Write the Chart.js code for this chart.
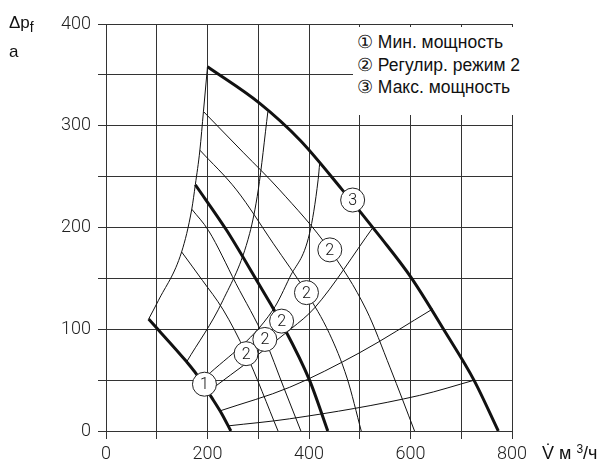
<!DOCTYPE html>
<html>
<head>
<meta charset="utf-8">
<script src="https://cdn.jsdelivr.net/npm/chart.js@4.4.1/dist/chart.umd.min.js"></script>
<style>
  html, body { margin: 0; padding: 0; background: #fff; }
  #wrap { position: relative; width: 608px; height: 466px; overflow: hidden; }
  #chart { position: absolute; left: 0; top: 0; }
  .txt { position: absolute; font-family: "Liberation Sans", Arial, sans-serif; color: #111; white-space: nowrap; line-height: 17px; font-size: 17px; }
  #legend { position: absolute; left: 353px; top: 27px; width: 190px; height: 88px; background: #fff;
            font-family: "Liberation Sans", Arial, sans-serif; font-size: 17.5px; line-height: 22.5px; color: #111;
            padding: 4px 0 0 4px; box-sizing: border-box; white-space: nowrap; }
</style>
</head>
<body>
<div id="wrap">
  <canvas id="chart" width="608" height="466"></canvas>
  <div id="legend">
    <div>① Мин. мощность</div>
    <div>② Регулир. режим 2</div>
    <div>③ Макс. мощность</div>
  </div>
  <div class="txt" style="left:9px; top:14px;">Δp<span style="font-size:14px; position:relative; top:4px;">f</span></div>
  <div class="txt" style="left:9px; top:43px;">a</div>
  <div class="txt" style="left:542px; top:445px; font-size:18px;">V̇ м <span style="font-size:12px; position:relative; top:-6px;">3</span>/ч</div>
</div>
<script>
// fan curves (x = V m3/h, y = dp Pa)
const fanMax   = [[200,358],[303,322],[382,286],[464,238],[540,191],[601,151],[670,96],[725,50],[773,0]];
const fanStep5 = [[192,314],[270,274],[342,237],[441,178],[513,119],[560,62],[608,0]];
const fanStep4 = [[185,276],[257,237],[330,184],[395,136],[440,96],[475,52],[503,0]];
const fanMid   = [[176,242],[238,197],[297,148],[323,126],[346,106],[401,50],[437,0]];
const fanStep2 = [[169,218],[202,197],[256,145],[313,90],[350,43],[384,0]];
const fanStep1 = [[149,176],[190,148],[231,119],[276,76],[339,0]];
const fanMin   = [[84,110],[159,68],[175,58],[208,33],[228,17],[246,0]];

// left limit and the rising lines between min and max curve
const leftLimit = [[84,110],[103,128],[149,176],[169,218],[176,242],[185,276],[192,314],[200,358]];
const riseA = [[159,68],[230,128],[283,194],[300,237],[319,314]];
const riseB = [[188,49],[329,119],[362,151],[401,194],[418,247],[421,263]];
const riseC = [[205,40],[366,101],[411,121],[526,200]];
const riseD = [[226,20],[362,43],[500,77],[644,120]];
const riseE = [[240,5],[362,12],[618,35],[726,50]];

// circled numbers on the curves
const markerX = [194, 276, 313, 346, 395, 441, 486];
const markerY = [46, 76, 90, 108, 136, 178, 227];
const markerLabels = ['1', '2', '2', '2', '2', '2', '3'];

const toXY = arr => arr.map(p => ({ x: p[0], y: p[1] }));

function curve(arr, thick) {
  return {
    data: toXY(arr),
    showLine: true,
    borderColor: '#111',
    borderWidth: thick ? 3 : 1,
    pointRadius: 0,
    cubicInterpolationMode: 'monotone',
    order: 1
  };
}

const tickFont = { family: 'Roboto', size: 18, weight: '300' };

// draws the digits inside the circles
const markerText = {
  id: 'markerText',
  afterDatasetsDraw(chart) {
    const meta = chart.getDatasetMeta(0);
    const ctx = chart.ctx;
    ctx.save();
    ctx.font = '300 16px Roboto';
    ctx.fillStyle = '#111';
    ctx.textAlign = 'center';
    ctx.textBaseline = 'middle';
    meta.data.forEach((pt, i) => {
      ctx.fillText(markerLabels[i], pt.x, pt.y + 1);
    });
    ctx.restore();
  }
};

new Chart(document.getElementById('chart'), {
  type: 'scatter',
  data: {
    datasets: [
      {
        data: markerX.map((x, i) => ({ x: x, y: markerY[i] })),
        pointRadius: 12,
        pointBackgroundColor: '#fff',
        pointBorderColor: '#222',
        pointBorderWidth: 1,
        order: 0,
        clip: false
      },
      curve(leftLimit, false),
      curve(riseA, false),
      curve(riseB, false),
      curve(riseC, false),
      curve(riseD, false),
      curve(riseE, false),
      curve(fanStep1, false),
      curve(fanStep2, false),
      curve(fanStep4, false),
      curve(fanStep5, false),
      curve(fanMin, true),
      curve(fanMid, true),
      curve(fanMax, true)
    ]
  },
  options: {
    responsive: false,
    animation: false,
    devicePixelRatio: 1,
    events: [],
    layout: { padding: { left: 0, top: 24, right: 96, bottom: 0 } },
    plugins: { legend: { display: false }, tooltip: { enabled: false } },
    scales: {
      x: {
        type: 'linear', min: 0, max: 800,
        ticks: {
          stepSize: 100, autoSkip: false, maxRotation: 0, padding: 5,
          font: tickFont, color: '#222',
          callback: v => (v % 200 === 0 ? v : '')
        },
        grid: { color: '#333', lineWidth: 1, tickLength: 8 },
        border: { display: true, color: '#333' },
        afterFit: s => { s.height = 35; }
      },
      y: {
        type: 'linear', min: 0, max: 400,
        ticks: {
          stepSize: 50, autoSkip: false, padding: 7,
          font: tickFont, color: '#222',
          callback: v => (v % 100 === 0 ? v : '')
        },
        grid: { color: '#333', lineWidth: 1, tickLength: 8 },
        border: { display: true, color: '#333' },
        afterFit: s => { s.width = 106; }
      }
    }
  },
  plugins: [markerText]
});
</script>
</body>
</html>
